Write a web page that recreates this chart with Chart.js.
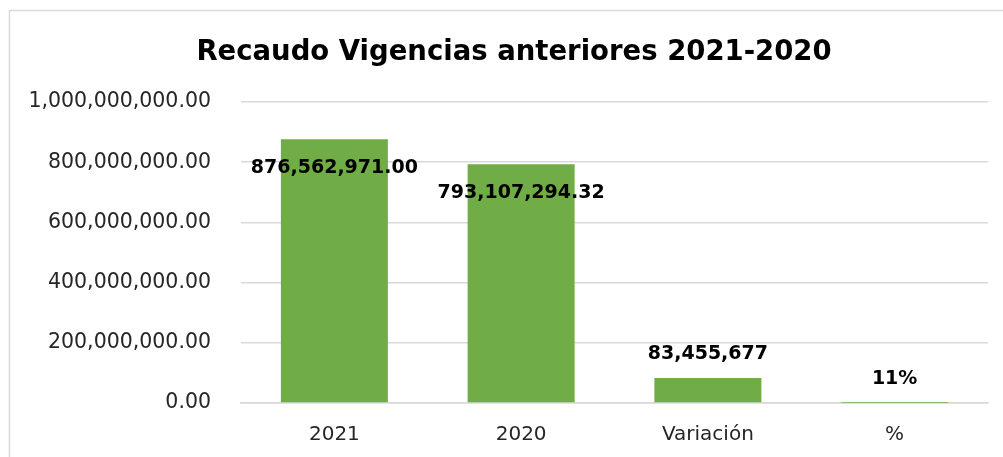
<!DOCTYPE html>
<html>
<head>
<meta charset="utf-8">
<script src="https://cdn.jsdelivr.net/npm/chart.js@4.4.0/dist/chart.umd.min.js"></script>
<style>
  html, body { margin: 0; padding: 0; background: #fff; }
  #wrap { width: 1003px; height: 457px; position: relative; }
</style>
</head>
<body>
<div id="wrap"><canvas id="grafico"></canvas></div>
<script>
// Datos del gráfico
const titulo = 'Recaudo Vigencias anteriores 2021-2020';
const categorias = ['2021', '2020', 'Variación', '%'];
const valores = [876562971.00, 793107294.32, 83455676.68, 0.1052];
const formatos = ['decimal', 'decimal', 'entero', 'porcentaje'];
const ticksY = [0, 200000000, 400000000, 600000000, 800000000, 1000000000];

const VERDE = '#70AD47';
const GRIS = '#d9d9d9';
const FUENTE = "'DejaVu Sans', sans-serif";

function formatearValor(v, tipo) {
  if (tipo === 'porcentaje') return Math.round(v * 100) + '%';
  if (tipo === 'entero') return Math.round(v).toLocaleString('en-US');
  return v.toLocaleString('en-US', { minimumFractionDigits: 2, maximumFractionDigits: 2 });
}

// Marco exterior y título
const marcoPlugin = {
  id: 'marco',
  beforeDraw(chart) {
    const ctx = chart.ctx;
    ctx.save();
    ctx.strokeStyle = GRIS;
    ctx.lineWidth = 1.5;
    ctx.strokeRect(9.5, 10.5, 1020, 500);
    ctx.font = "bold 27.5px " + FUENTE;
    ctx.fillStyle = '#000';
    ctx.textAlign = 'center';
    ctx.textBaseline = 'middle';
    ctx.fillText(titulo, 514, 53);
    ctx.restore();
  }
};

// Etiquetas de datos (dentro del extremo si la barra es alta, fuera si no)
const etiquetasPlugin = {
  id: 'etiquetas',
  afterDatasetsDraw(chart) {
    const ctx = chart.ctx;
    const meta = chart.getDatasetMeta(0);
    ctx.save();
    ctx.font = "bold 19px " + FUENTE;
    ctx.fillStyle = '#000';
    ctx.textAlign = 'center';
    ctx.textBaseline = 'middle';
    meta.data.forEach((bar, i) => {
      const alto = bar.base - bar.y;
      const y = alto > 60 ? bar.y + 29 : bar.y - 24;
      ctx.fillText(formatearValor(valores[i], formatos[i]), bar.x, y);
    });
    ctx.restore();
  }
};

const ctx = document.getElementById('grafico').getContext('2d');
new Chart(ctx, {
  type: 'bar',
  data: {
    labels: categorias,
    datasets: [{
      data: valores,
      backgroundColor: VERDE,
      borderWidth: 0,
      barPercentage: 0.573,
      categoryPercentage: 1
    }]
  },
  options: {
    responsive: true,
    maintainAspectRatio: false,
    animation: false,
    layout: { padding: { left: 0, right: 15, top: 102, bottom: 0 } },
    plugins: {
      legend: { display: false },
      tooltip: { enabled: false },
      title: { display: false }
    },
    scales: {
      x: {
        afterFit(scale) { scale.height = 54; },
        grid: { display: false, drawTicks: false },
        border: { display: true, color: GRIS, width: 1.5 },
        ticks: { color: '#262626', font: { family: FUENTE, size: 20 }, padding: 20 }
      },
      y: {
        min: 0,
        max: 1000000000,
        afterBuildTicks(scale) { scale.ticks = ticksY.map(v => ({ value: v })); },
        afterFit(scale) { scale.width = 241; },
        grid: { color: GRIS, lineWidth: 1.5, drawTicks: false },
        border: { display: false },
        ticks: {
          color: '#262626',
          padding: 30,
          font: { family: FUENTE, size: 20.5 },
          callback: v => v.toLocaleString('en-US', { minimumFractionDigits: 2, maximumFractionDigits: 2 })
        }
      }
    }
  },
  plugins: [marcoPlugin, etiquetasPlugin]
});
</script>
</body>
</html>
